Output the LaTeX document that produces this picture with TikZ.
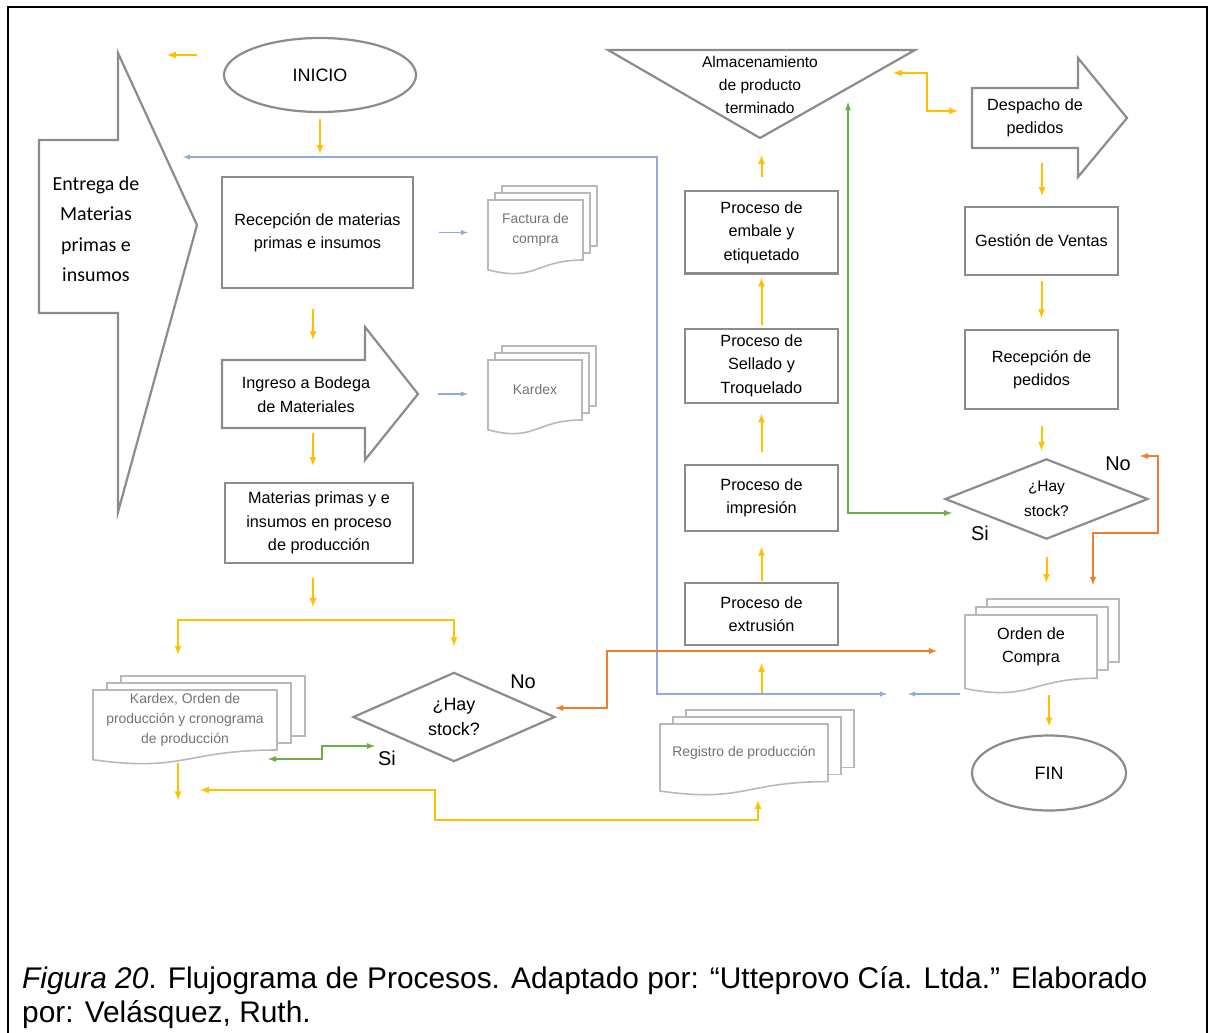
\documentclass[tikz,border=0pt]{standalone}
\usepackage{fontspec}
\setmainfont{Liberation Sans}
\newfontfamily\calibrifont{Carlito}
\usepackage{tikz}
\usetikzlibrary{shapes}
\usetikzlibrary{arrows}
\usetikzlibrary{positioning}

\definecolor{boxgray}{RGB}{140,140,140}
\definecolor{docgray}{RGB}{185,185,185}
\definecolor{txtgray}{RGB}{115,115,115}
\definecolor{ylw}{RGB}{255,192,0}
\definecolor{blu}{RGB}{143,170,220}
\definecolor{grn}{RGB}{112,173,71}
\definecolor{org}{RGB}{237,125,49}

\newcommand{\docstack}[9]{%
  \foreach \k in {2,1}
    \draw[docline, fill=white] (#2+\k*#6, #3-\k*#7) rectangle ++(#4, 0.8*#5);
  \draw[docline, fill=white] (#2, #3) -- (#2+#4, #3) -- (#2+#4, #3+0.8*#5)
    .. controls (#2+0.5*#4, #3+0.8*#5) and (#2+0.5*#4, #3+1.1*#5) .. (#2, #3+0.93*#5) -- cycle;
  \node[#8, minimum width=#4bp, minimum height=0.8*#5bp] (#1) at (#2+0.5*#4, #3+0.4*#5) {#9};
}

\begin{document}
\begin{tikzpicture}
        [x=1bp, y=-1bp, >=latex,
         every node/.style={font=\fontsize{16.3}{23.5}\selectfont, inner sep=0pt, align=center},
         box/.style={rectangle, draw=boxgray, line width=2.2bp, fill=white, minimum width=153bp},
         term/.style={ellipse, draw=boxgray, line width=2.2bp, fill=white, font=\fontsize{18}{22}\selectfont},
         dec/.style={diamond, draw=boxgray, line width=2.2bp, fill=white},
         shapeline/.style={draw=boxgray, line width=2.2bp, fill=white},
         docline/.style={draw=docgray, line width=1.6bp},
         doctext/.style={text=txtgray, font=\fontsize{14}{20}\selectfont},
         yline/.style={draw=ylw, line width=2bp},
         bline/.style={draw=blu, line width=1.4bp},
         gline/.style={draw=grn, line width=1.8bp},
         oline/.style={draw=org, line width=1.8bp},
         lbl/.style={font=\fontsize{20}{24}\selectfont}]
        \useasboundingbox (0,0) rectangle (1212,1033);
        \draw[line width=2bp] (8,1033) -- (8,7) -- (1207,7) -- (1207,1033);

        \draw[shapeline] (39,140) -- (118,140) -- (118,53) -- (197,225) -- (118,512) -- (118,313) -- (39,313) -- cycle;
        \node[font=\calibrifont\fontsize{20}{30.5}\selectfont] (entrega) at (96,229) {Entrega de\\Materias\\primas e\\insumos};

        \node[term, minimum width=192bp, minimum height=74bp] (inicio) at (320,75) {INICIO};
        \node[box, minimum width=191bp, minimum height=111bp] (recep) at (317.5,232.5) {Recepción de materias\\primas e insumos};

        \draw[shapeline] (222,360) -- (365,360) -- (365,327) -- (418,394) -- (365,460) -- (365,428) -- (222,428) -- cycle;
        \node (ingreso) at (306,394.5) {Ingreso a Bodega\\de Materiales};
        \coordinate (ingN) at (313,360);
        \coordinate (ingS) at (313,428);
        \coordinate (ingE) at (418,394);

        \node[box, minimum width=188bp, minimum height=80bp] (mat) at (319,523) {Materias primas y e\\insumos en proceso\\de producción};

        \docstack{factura}{488}{200}{95}{75}{7}{7}{doctext}{Factura de\\compra}
        \docstack{kardex}{488}{360}{94}{75}{7}{7}{doctext}{Kardex}
        \docstack{kardoc}{93}{690}{184}{75}{14}{7}{doctext}{Kardex, Orden de\\producción y cronograma\\de producción}
        \docstack{registro}{660}{724}{168}{72}{13}{7}{doctext}{Registro de producción}
        \docstack{orden}{965}{615}{132}{79}{11}{8}{}{Orden de\\Compra}

        \node[dec, minimum width=202bp, minimum height=75bp, font=\fontsize{18}{25}\selectfont] (dleft) at (454,717) {¿Hay\\stock?};
        \node[dec, minimum width=203bp, minimum height=74bp, font=\fontsize{15.5}{25}\selectfont] (dright) at (1046.5,499) {¿Hay\\stock?};

        \node[box, minimum height=62bp] (extrusion) at (761.5,614) {Proceso de\\extrusión};
        \node[box, minimum height=66bp, above=50bp of extrusion] (impresion) {Proceso de\\impresión};
        \node[box, minimum height=74bp, above=60bp of impresion] (sellado) {Proceso de\\Sellado y\\Troquelado};
        \node[box, minimum height=82bp, above=53bp of sellado] (embale) {Proceso de\\embale y\\etiquetado};

        \draw[shapeline] (608,50) -- (915,50) -- (760,138) -- cycle;
        \node[font=\fontsize{15.6}{23}\selectfont] (alm) at (760,85) {Almacenamiento\\de producto\\terminado};
        \coordinate (almtip) at (760,138);

        \draw[shapeline] (972,88) -- (1078,88) -- (1078,58) -- (1127,118) -- (1078,177) -- (1078,148) -- (972,148) -- cycle;
        \node (despacho) at (1035,118) {Despacho de\\pedidos};
        \coordinate (despS) at (1042,148);
        \node[box, minimum height=68bp] (gestion) at (1041.5,241) {Gestión de Ventas};
        \node[box, minimum height=79bp, below=53bp of gestion] (recped) {Recepción de\\pedidos};
        \node[term, minimum width=154bp, minimum height=75bp] (fin) at (1049,773) {FIN};

        \node[lbl] (noL) at (523,682) {No};
        \node[lbl] (siL) at (387,758) {Si};
        \node[lbl] (noR) at (1118,464) {No};
        \node[lbl] (siR) at (980,533) {Si};

        \coordinate (loneA) at (197,55);
        \coordinate (loneB) at (167,55);
        \coordinate (split) at (313,620);
        \coordinate (retA) at (200,790);
        \coordinate (retB) at (758,800);
        \coordinate (bluA) at (887,694);
        \coordinate (bluB) at (183,157);
        \coordinate (bluC) at (960,694);
        \coordinate (bluD) at (908,694);
        \coordinate (almR) at (893,73);
        \coordinate (despW) at (958,111);
        \coordinate (siA) at (952,513);
        \coordinate (almG) at (848,102);
        \coordinate (siB) at (375,746);
        \coordinate (kardocG) at (268,759);
        \coordinate (noA) at (555,708);
        \coordinate (ordW) at (937,651);
        \coordinate (noB) at (1140,456);
        \coordinate (ordN) at (1093,585);

        \draw[yline,->] (loneA) -- (loneB);
        \draw[yline,->,shorten <=6bp,shorten >=22bp] (inicio.south) -- (inicio.south |- recep.north);
        \draw[yline,->,shorten <=20bp,shorten >=20bp] (recep.south -| ingN) -- (ingN);
        \draw[yline,->,shorten <=5bp,shorten >=16bp] (ingS) -- (ingS |- mat.north);
        \draw[yline,->,shorten <=14bp,shorten >=13bp] (mat.south -| split) -- (split);
        \draw[yline,->,shorten >=35bp] (split) -| ([xshift=-7bp]kardoc.north);
        \draw[yline,->,shorten >=25bp] (split) -| (dleft.north);
        \draw[yline,->,shorten <=13bp] ([xshift=-7bp]kardoc.south) -- ++(0,50);
        \draw[yline,<->] (retA) -- (435,790) -- (435,820) -| (retB);

        \draw[bline,->,shorten <=25bp,shorten >=20bp] (recep.east) -- (recep.east -| factura.west);
        \draw[bline,->,shorten <=20bp,shorten >=20bp] (ingE) -- (ingE -| kardex.west);
        \draw[bline,<->] (bluA) -| (657,157) -- (bluB);
        \draw[bline,->] (bluC) -- (bluD);

        \draw[yline,->,shorten <=31bp,shorten >=17bp] (extrusion.south |- registro.north) -- (extrusion.south);
        \draw[yline,->,shorten <=1bp,shorten >=15bp] (extrusion) -- (impresion);
        \draw[yline,->,shorten <=12bp,shorten >=10bp] (impresion) -- (sellado);
        \draw[yline,->,shorten <=3bp,shorten >=3bp] (sellado) -- (embale);
        \draw[yline,->,shorten <=13bp,shorten >=17bp] (embale.north) -- (embale.north |- almtip);

        \draw[yline,<->] (almR) -- (927,73) |- (despW);
        \draw[yline,->,shorten <=15bp,shorten >=10bp] (despS) -- (despS |- gestion.north);
        \draw[yline,->,shorten <=5bp,shorten >=11bp] (gestion) -- (recped);
        \draw[yline,->,shorten <=16bp,shorten >=7bp] (recped.south) -- (recped.south |- dright.north);
        \draw[yline,->,shorten <=17bp,shorten >=32bp] (dright.south) -- (dright.south |- orden.north);
        \draw[yline,->,shorten <=17bp,shorten >=8bp] (orden.south -| fin.north) -- (fin.north);

        \draw[gline,<->] (siA) -| (almG);
        \draw[gline,<->] (siB) -- (322,746) |- (kardocG);
        \draw[oline,<->] (noA) -- (607,708) |- (ordW);
        \draw[oline,<->] (noB) -- (1158,456) -- (1158,533) -| (ordN);

        \node[anchor=north west, align=left, font=\fontsize{30}{34}\selectfont] (caption) at (22,966) {\textit{Figura 20}. Flujograma de Procesos. Adaptado por: “Utteprovo Cía. Ltda.” Elaborado\\por: Velásquez, Ruth.};
\end{tikzpicture}
\end{document}
